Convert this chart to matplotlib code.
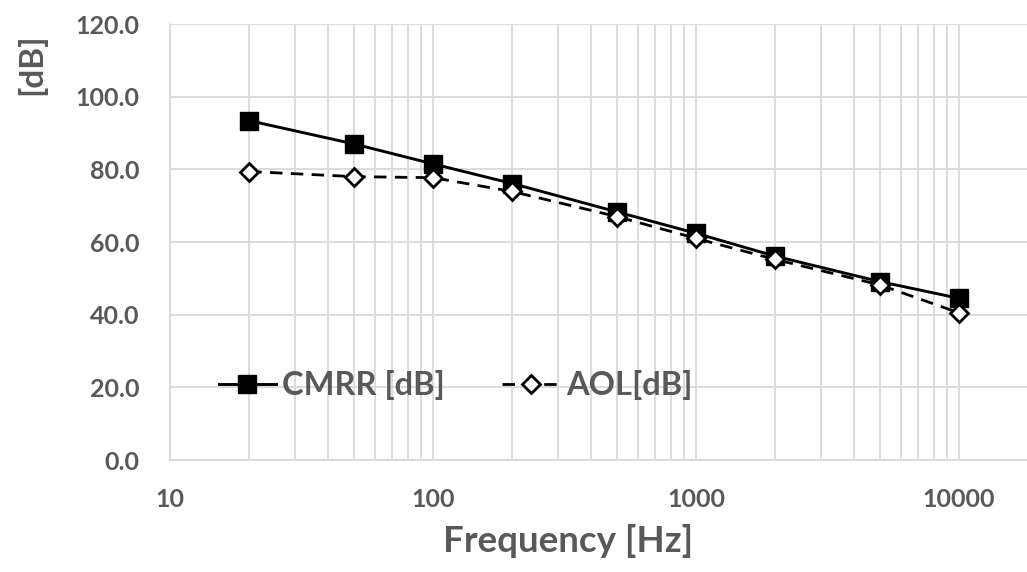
import matplotlib
matplotlib.use("Agg")
import matplotlib.pyplot as plt
import numpy as np

# frequency [Hz]
freq = [20, 50, 100, 200, 500, 1000, 2000, 5000, 10000]
# measured values [dB]
cmrr = [93.4, 87.0, 81.5, 76.1, 68.3, 62.4, 56.1, 49.1, 44.5]
aol = [79.4, 78.0, 77.7, 73.9, 67.0, 61.0, 55.2, 48.2, 40.5]

x_ticks = [10, 100, 1000, 10000]
y_ticks = [0, 20, 40, 60, 80, 100, 120]

gray = "#595959"
grid_c = "#d9d9d9"

plt.rcParams["font.family"] = ["Lato", "DejaVu Sans"]
plt.rcParams["font.weight"] = "bold"

fig = plt.figure(figsize=(10.27, 5.72), dpi=100)
ax = fig.add_axes([170 / 1027, 112 / 572, 857 / 1027, 436 / 572])

ax.plot(freq, cmrr, color="black", lw=2.1, marker="s", ms=13.5,
        mfc="black", mec="black", label="CMRR [dB]", zorder=3)
ax.plot(freq, aol, color="black", lw=2.0, ls=(0, (4.5, 3)), marker="D",
        ms=9.5, mfc="white", mec="black", mew=2, label="AOL[dB]", zorder=4)

ax.set_xscale("log")
ax.set_xlim(10, 10 ** (1 + 857 / 263))
ax.set_ylim(0, 120)
ax.set_xticks(x_ticks)
ax.set_xticklabels([str(v) for v in x_ticks])
ax.xaxis.set_minor_locator(matplotlib.ticker.LogLocator(base=10, subs=np.arange(2, 10)))
ax.xaxis.set_minor_formatter(matplotlib.ticker.NullFormatter())
ax.set_yticks(y_ticks)
ax.set_yticklabels(["%.1f" % v for v in y_ticks])

ax.grid(True, which="both", color=grid_c, lw=1.3)
ax.set_axisbelow(True)
for s in ["top", "right"]:
    ax.spines[s].set_visible(False)
for s in ["left", "bottom"]:
    ax.spines[s].set_color(grid_c)
    ax.spines[s].set_linewidth(1.3)

ax.tick_params(axis="both", which="both", length=0, colors=gray, labelsize=18)
ax.tick_params(axis="x", pad=20)
ax.tick_params(axis="y", pad=22)
for lab in ax.get_xticklabels() + ax.get_yticklabels():
    lab.set_fontweight("bold")

ax.set_xlabel("Frequency [Hz]", fontsize=26.5, color=gray, fontweight="bold")
ax.xaxis.set_label_coords((568 - 170) / 857, -(524 - 460) / 436)
ax.set_ylabel("[dB]", fontsize=24, color=gray, fontweight="bold")
ax.yaxis.set_label_coords((46 - 170) / 857, (460 - 64) / 436)

leg = ax.legend(loc="center left", bbox_to_anchor=(0.057, 0.172), ncol=2,
                frameon=False, borderpad=0, borderaxespad=0,
                handlelength=1.75, handletextpad=0.2, columnspacing=1.75,
                prop={"size": 23.5, "weight": "bold"})
for t in leg.get_texts():
    t.set_color(gray)

fig.savefig("out.png", dpi=100)
